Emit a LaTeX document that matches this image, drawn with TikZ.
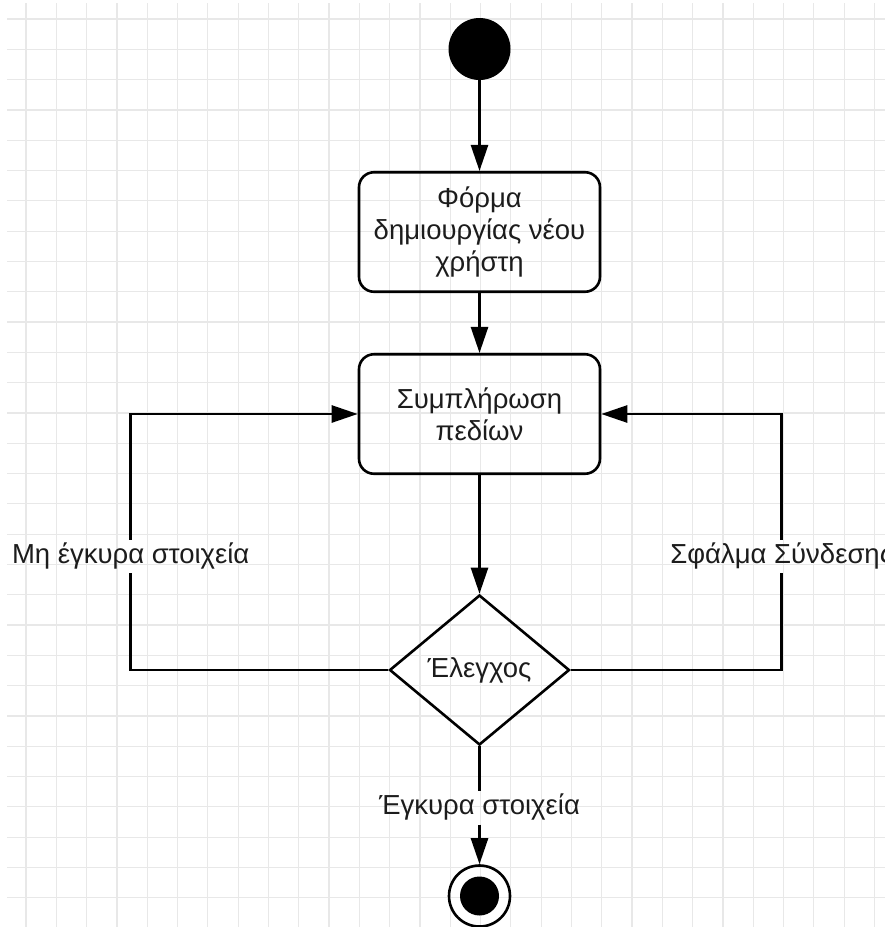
\documentclass[tikz,border=0pt]{standalone}
\usepackage{fontspec}
\setmainfont{Liberation Sans}
\usetikzlibrary{arrows.meta,shapes.geometric}
\definecolor{gridline}{HTML}{E8E8E8}
\definecolor{ink}{HTML}{1C1C1C}
\begin{document}
\begin{tikzpicture}[x=1pt,y=-1pt,
  every node/.style={font=\fontsize{27.5}{32}\selectfont, text=ink},
  flow/.style={line width=2.6pt, draw=black},
  arr/.style={flow, -{Triangle[length=26pt,width=17pt]}},
  action/.style={draw=black, line width=2.6pt, rounded corners=15pt,
    minimum width=241pt, minimum height=119.5pt, inner sep=0pt, align=center},
  decision/.style={diamond, draw=black, line width=2.6pt, aspect=1.2,
    minimum width=180pt, minimum height=150pt, inner sep=0pt},
  lbl/.style={inner xsep=2pt, inner ysep=4pt, text height=19pt, text depth=6pt},
  initial/.style={circle, fill=black, minimum size=62pt, inner sep=0pt},
  finalring/.style={circle, draw=black, line width=2.6pt, minimum size=61pt, inner sep=0pt},
  finaldot/.style={circle, fill=black, minimum size=39pt, inner sep=0pt},
]
\useasboundingbox (0,0) rectangle (885,927);
\clip (0,0) rectangle (885,927);
\fill[white] (0,0) rectangle (885,927);

% background grid
\foreach \k in {0,...,28}
  \draw[gridline, line width=1.2pt] ({26+30.3*\k},3) -- ({26+30.3*\k},927);
\foreach \k in {0,...,29}
  \draw[gridline, line width=1.2pt] (7,{19+30.3*\k}) -- (885,{19+30.3*\k});

% activity nodes
\node[initial] (start) at (479.5,49) {};
\node[action] (form) at (479.5,232) {Φόρμα\\δημιουργίας νέου\\χρήστη};
\node[action] (fill) at (479.5,414) {Συμπλήρωση\\πεδίων};
\node[decision] (chk) at (479.5,670) {Έλεγχος};
\node[finalring] (stop) at (479.5,896) {};
\node[finaldot] (stopdot) at (stop.center) {};

% guard labels
\node[lbl] (lblBad) at (130.7,556.5) {Μη έγκυρα στοιχεία};
\node[lbl] (lblErr) at (781.7,556.5) {Σφάλμα Σύνδεσης};
\node[lbl] (lblOk) at (479.5,808) {Έγκυρα στοιχεία};

\coordinate (lturn) at (130.7,670);
\coordinate (rturn) at (781.7,670);

% main flow
\draw[arr] (start) -- (form);
\draw[arr] (form) -- (fill);
\draw[arr] (fill) -- (chk);
\draw[flow] (chk.south) -- (lblOk.north);
\draw[arr] (lblOk.south) -- (stop.north);

% loops back to the form
\draw[flow] (chk.west) -- (lturn) -- (lblBad.south);
\draw[arr] (lblBad.north) |- (fill.west);
\draw[flow] (chk.east) -- (rturn) -- (lblErr.south);
\draw[arr] (lblErr.north) |- (fill.east);
\end{tikzpicture}
\end{document}
